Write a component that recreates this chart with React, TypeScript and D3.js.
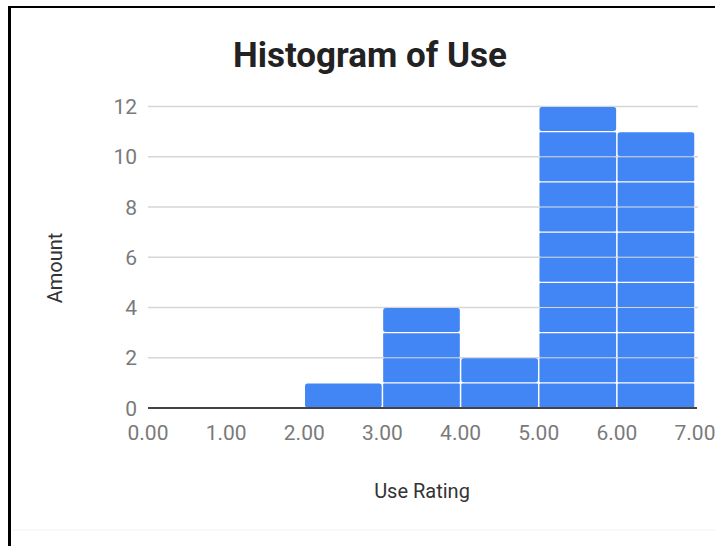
import { useRef, useEffect } from "react"
import * as d3 from "d3"

// histogram bins (Use Rating) and counts
const binStarts = [0, 1, 2, 3, 4, 5, 6]
const binEnds = [1, 2, 3, 4, 5, 6, 7]
const counts = [0, 0, 1, 4, 2, 12, 11]
const yTicks = [0, 2, 4, 6, 8, 10, 12]
const xTicks = [0, 1, 2, 3, 4, 5, 6, 7]

const W = 715
const H = 546

const App = () => {
  const svgRef = useRef<SVGSVGElement>(null)

  useEffect(() => {
    const svg = d3.select(svgRef.current)
    svg.selectAll("*").remove()

    const font = "Roboto, 'Noto Sans', sans-serif"

    const x = d3.scaleLinear().domain([0, 7]).range([148, 695])
    const y = d3.scaleLinear().domain([0, 12]).range([408, 106.5])

    svg.append("rect").attr("width", W).attr("height", H).attr("fill", "#fff")

    // frame lines
    svg.append("line").attr("x1", 8).attr("x2", W).attr("y1", 7).attr("y2", 7)
      .attr("stroke", "#000").attr("stroke-width", 2)
    svg.append("line").attr("x1", 9.5).attr("x2", 9.5).attr("y1", 6).attr("y2", H)
      .attr("stroke", "#000").attr("stroke-width", 3)
    svg.append("line").attr("x1", 12).attr("x2", W).attr("y1", 530).attr("y2", 530)
      .attr("stroke", "#f3f3f3").attr("stroke-width", 1)

    // title
    svg.append("text")
      .attr("x", 370).attr("y", 67)
      .attr("text-anchor", "middle")
      .style("font-family", font).style("font-weight", "bold").style("font-size", "35px")
      .attr("fill", "#222")
      .text("Histogram of Use")

    // gridlines + y labels
    const grid = svg.append("g")
    yTicks.forEach((t) => {
      if (t > 0) {
        grid.append("line")
          .attr("x1", 148).attr("x2", 698)
          .attr("y1", y(t)).attr("y2", y(t))
          .attr("stroke", "#d6d6d6").attr("stroke-width", 1.5)
      }
      grid.append("text")
        .attr("x", 137).attr("y", y(t))
        .attr("dy", "0.36em")
        .attr("text-anchor", "end")
        .style("font-family", font).style("font-size", "21px")
        .attr("fill", "#7a7a7a")
        .text(t)
    })

    // bars: one segment per item, white hairline between
    const bars = svg.append("g")
    counts.forEach((c, i) => {
      const x0 = x(binStarts[i]) + 0.75
      const x1 = x(binEnds[i]) - 0.75
      for (let k = 0; k < c; k++) {
        bars.append("rect")
          .attr("x", x0)
          .attr("y", y(k + 1) + 0.6)
          .attr("width", x1 - x0)
          .attr("height", y(k) - y(k + 1) - 1.2)
          .attr("rx", k === c - 1 ? 2.5 : 1)
          .attr("fill", "#4285F4")
      }
    })

    // baseline
    svg.append("line")
      .attr("x1", 148).attr("x2", 697)
      .attr("y1", y(0)).attr("y2", y(0))
      .attr("stroke", "#444").attr("stroke-width", 2)

    // x labels
    xTicks.forEach((t) => {
      svg.append("text")
        .attr("x", x(t)).attr("y", 440)
        .attr("text-anchor", "middle")
        .style("font-family", font).style("font-size", "21px")
        .attr("fill", "#7a7a7a")
        .text(d3.format(".2f")(t))
    })

    // axis titles
    svg.append("text")
      .attr("x", 422).attr("y", 498)
      .attr("text-anchor", "middle")
      .style("font-family", font).style("font-size", "20px")
      .attr("fill", "#333")
      .text("Use Rating")

    svg.append("text")
      .attr("transform", "translate(62,268) rotate(-90)")
      .attr("text-anchor", "middle")
      .style("font-family", font).style("font-size", "20px")
      .attr("fill", "#333")
      .text("Amount")
  }, [])

  return (
    <svg
      ref={svgRef}
      width={W}
      height={H}
      style={{ position: "absolute", left: 0, top: 0, display: "block" }}
    ></svg>
  )
}

export default App
